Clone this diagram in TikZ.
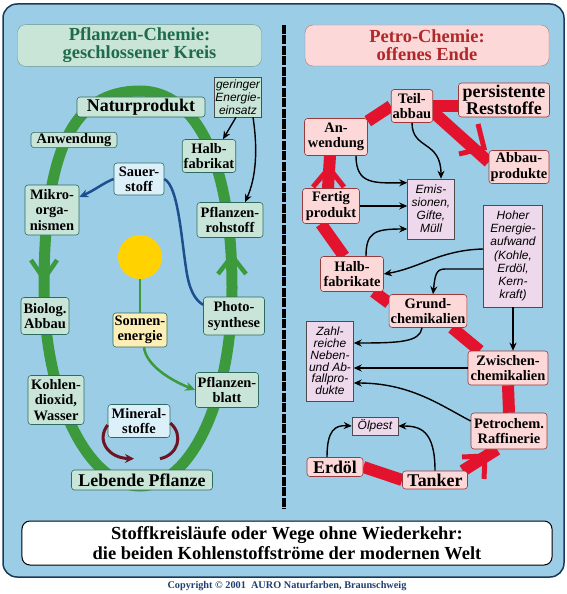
\documentclass[tikz,border=0pt]{standalone}
\usepackage{fontspec}
\setmainfont{Liberation Serif}
\setsansfont{Liberation Sans}
\usetikzlibrary{arrows.meta}
\pgfdeclarelayer{back}
\pgfdeclarelayer{bg}
\pgfsetlayers{back,bg,main}
\definecolor{skyblue}{HTML}{9CCDE6}
\definecolor{framecol}{HTML}{1B3A5A}
\definecolor{leafgreen}{HTML}{3C9A3C}
\definecolor{greenfill}{HTML}{C9E5D8}
\definecolor{greenline}{HTML}{2D6B60}
\definecolor{greentext}{HTML}{1F6B4A}
\definecolor{pinkfill}{HTML}{FCD8D8}
\definecolor{pinkline}{HTML}{9A3A3A}
\definecolor{redtext}{HTML}{B0282A}
\definecolor{petrored}{HTML}{E3132D}
\definecolor{lilac}{HTML}{EED8EC}
\definecolor{skyfill}{HTML}{DCF0FA}
\definecolor{sunfill}{HTML}{FDEEB5}
\definecolor{sunyellow}{HTML}{FFD200}
\definecolor{oxblue}{HTML}{1D4F8E}
\definecolor{rootred}{HTML}{6E1424}
\definecolor{copyblue}{HTML}{1F3F70}
\newcommand{\boxfont}{\fontsize{14.5}{15.3}\selectfont\bfseries}
\newcommand{\bigboxfont}{\fontsize{18}{17}\selectfont\bfseries}
\newcommand{\notefont}{\sffamily\itshape\fontsize{12}{12.9}\selectfont}
\newcommand{\titlefont}{\fontsize{18.5}{18}\selectfont\bfseries}
\newcommand{\captionfont}{\fontsize{18.5}{19.5}\selectfont\bfseries}

\begin{document}
\begin{tikzpicture}[x=1bp,y=-1bp,
	sz/.style 2 args={minimum width=#1bp, minimum height=#2bp},
	box/.style={draw, rounded corners=3bp, line width=0.6bp, align=center, inner xsep=1.5bp, inner ysep=1bp, font=\boxfont},
	gbox/.style={box, draw=greenline, fill=greenfill},
	bbox/.style={box, draw=greenline, fill=skyfill},
	ybox/.style={box, draw=greenline, fill=sunfill},
	pbox/.style={box, draw=pinkline, fill=pinkfill},
	bigtext/.style={font=\bigboxfont},
	note/.style={draw=black!70, line width=0.5bp, align=center, inner sep=1bp, font=\notefont},
	gnote/.style={note, fill=greenfill},
	lnote/.style={note, fill=lilac},
	ring/.style={leafgreen, line width=11bp},
	ringchev/.style={leafgreen, line width=4.5bp},
	band/.style={petrored, line width=12bp},
	bandchev/.style={petrored, line width=5bp},
	karrow/.style={-{Stealth[length=8bp,width=7bp]}, line width=1.4bp},
	gline/.style={leafgreen, line width=2.5bp},
	bline/.style={oxblue, line width=2.5bp},
	mline/.style={rootred, line width=3bp}]
\useasboundingbox (0,0) rectangle (567,594);
\begin{pgfonlayer}{back}
\draw[fill=skyblue, draw=framecol, line width=1.5bp, rounded corners=14bp] (3,4) rectangle (564,577);
\end{pgfonlayer}
\draw[black, line width=4bp, dash pattern=on 9bp off 1.5bp] (284,25) -- (284,509);

\node[draw=greenline!70, fill=greenfill, rounded corners=8bp, sz={244}{41}, align=center, font=\titlefont, text=greentext] (ltitle) at (139.5,45.5) {Pflanzen-Chemie:\\geschlossener Kreis};
\node[draw=pinkline!70, fill=pinkfill, rounded corners=8bp, sz={244}{41}, align=center, font=\titlefont, text=redtext] (rtitle) at (427,45.5) {Petro-Chemie:\\offenes Ende};

\draw[ring] (44,288) .. controls (44,150) and (73,91) .. (140,91) .. controls (195,91) and (232,160) .. (232,288) .. controls (232,397) and (192,486) .. (140,486) .. controls (88,486) and (44,397) .. (44,288) -- cycle;
\draw[ringchev] (31,260) -- (44,279) -- (57,260);
\draw[ringchev] (218,274) -- (232,256) -- (246,274);
\node[circle, fill=sunyellow, minimum size=44bp, inner sep=0pt] (sun) at (140,257) {};

\node[gbox, bigtext, sz={128}{20}] (natur) at (141,107) {Naturprodukt};
\node[gbox, sz={86}{15}] (lanw) at (74,140) {Anwendung};
\node[gbox, sz={46}{33}] (lhalb) at (209,156) {Halb-\\fabrikat};
\node[gnote, sz={45}{40}] (gering) at (238,97) {geringer\\Energie-\\einsatz};
\node[bbox, sz={50}{32}] (sauer) at (139,179) {Sauer-\\stoff};
\node[gbox, sz={54}{50}] (mikro) at (52,210) {Mikro-\\orga-\\nismen};
\node[gbox, sz={66}{35}] (rohstoff) at (230,220) {Pflanzen-\\rohstoff};
\node[ybox, sz={54}{34}] (senergie) at (140,330) {Sonnen-\\energie};
\node[gbox, sz={48}{37}] (biolog) at (45,316) {Biolog.\\Abbau};
\node[gbox, sz={61}{38}] (photo) at (234,316) {Photo-\\synthese};
\node[gbox, sz={56}{49}] (kohlen) at (56,400) {Kohlen-\\dioxid,\\Wasser};
\node[gbox, sz={63}{35}] (blatt) at (227,390) {Pflanzen-\\blatt};
\node[bbox, sz={62}{33}] (mineral) at (139,421) {Mineral-\\stoffe};
\node[gbox, bigtext, sz={141}{20}] (lebend) at (142,480) {Lebende Pflanze};

\node[pbox, sz={41}{33}] (teil) at (412,106) {Teil-\\abbau};
\node[pbox, bigtext, sz={91}{34}] (persist) at (504,100) {persistente\\Reststoffe};
\node[pbox, sz={63}{37}] (ranw) at (336,137) {An-\\wendung};
\node[pbox, sz={60}{33}] (abbau) at (519,167) {Abbau-\\produkte};
\node[lnote, sz={47}{60}] (emis) at (431,209) {Emis-\\sionen,\\Gifte,\\Müll};
\node[pbox, sz={57}{35}] (fertig) at (331,206) {Fertig\\produkt};
\node[pbox, sz={63}{35}] (rhalb) at (352,274) {Halb-\\fabrikate};
\node[lnote, sz={59}{102}, font=\sffamily\itshape\fontsize{12}{13.3}\selectfont] (hoher) at (513,256) {Hoher\\Energie-\\aufwand\\(Kohle,\\Erdöl,\\Kern-\\kraft)};
\node[pbox, sz={70}{33}] (grund) at (428,311) {Grund-\\chemikalien};
\node[lnote, sz={47}{80}, font=\sffamily\itshape\fontsize{12}{11.8}\selectfont] (zahl) at (330,361) {Zahl-\\reiche\\Neben-\\und Ab-\\fallpro-\\dukte};
\node[pbox, sz={80}{34}] (zwischen) at (508,368) {Zwischen-\\chemikalien};
\node[pbox, sz={76}{36}] (raff) at (509,431) {Petrochem.\\Raffinerie};
\node[lnote, sz={46}{18}] (oelpest) at (375,426) {Ölpest};
\node[pbox, bigtext, sz={56}{19}] (erdoel) at (335,467) {Erdöl};
\node[pbox, bigtext, sz={65}{18}] (tanker) at (435,480) {Tanker};

\node[draw=black, fill=white, line width=1bp, rounded corners=8bp, sz={530}{44}, align=center, font=\captionfont] (caption) at (287,543) {Stoffkreisläufe oder Wege ohne Wiederkehr:\\die beiden Kohlenstoffströme der modernen Welt};
\node[font=\fontsize{10.3}{11}\selectfont\bfseries, text=copyblue] (copy) at (287,586) {Copyright © 2001\ \ AURO Naturfarben, Braunschweig};

\draw[gline] (sun) -- (senergie);
\draw[gline, -{Stealth[length=10bp,width=9bp]}] ([xshift=4bp]senergie.south) .. controls (146,365) and (170,380) .. (blatt.west);
\draw[bline] (sauer.east) .. controls (178,186) and (181,235) .. (186,268) .. controls (189,290) and (195,300) .. (photo.160);
\draw[bline, -{Stealth[length=9bp,width=8bp]}] (sauer.west) .. controls (105,182) and (95,190) .. ([yshift=13bp]mikro.east);
\draw[mline, -{Stealth[length=9bp,width=9bp]}] ([yshift=-4bp]mineral.west) .. controls (96,440) and (108,458) .. ([xshift=-8bp,yshift=11bp]lebend.north);
\draw[mline] ([xshift=18bp,yshift=11bp]lebend.north) .. controls (178,455) and (184,435) .. ([yshift=-2bp]mineral.east);
\draw[karrow] ([xshift=-2bp]gering.south) -- ([xshift=14bp]lhalb.north);
\draw[karrow] ([xshift=15bp]gering.south) .. controls (258,150) and (256,178) .. ([xshift=15bp]rohstoff.north);

\begin{pgfonlayer}{bg}
\draw[band] (erdoel.east) -- (tanker.west);
\draw[band] ([xshift=-5bp]tanker.north east) -- ([xshift=-12bp]raff.south);
\draw[band] (raff.north) -- (zwischen.south);
\draw[band] ([xshift=12bp]zwischen.north west) -- ([xshift=-15bp]grund.south east);
\draw[band] ([yshift=8bp]grund.west) -- ([xshift=-10bp]rhalb.south east);
\draw[band] ([xshift=-8bp]rhalb.north) -- ([xshift=-10bp]fertig.south);
\draw[band] ([xshift=-3bp]fertig.north) -- ([xshift=-6bp]ranw.south);
\draw[band] ([yshift=-3bp]ranw.north east) -- (teil.west);
\draw[band] (teil.east) -- (teil.east -| persist.west);
\draw[band] ([yshift=-6bp]teil.east) -- ([yshift=5bp]abbau.west);
\end{pgfonlayer}
\draw[bandchev] (462,457) -- (485,456) -- (484,479);
\draw[bandchev] (313,187) -- (329,168) -- (344,187);
\draw[bandchev] (478,124) -- (484,148) -- (459,154);

\draw[karrow] (teil.south) .. controls (412,150) and (441,140) .. ([xshift=10bp]emis.north);
\draw[karrow] ([xshift=20bp]ranw.south) .. controls (356,185) and (375,183) .. ([yshift=-4bp]emis.north west);
\draw[karrow] (fertig.east) -- (fertig.east -| emis.west);
\draw[karrow] ([xshift=14bp]rhalb.north) .. controls (366,232) and (375,229) .. ([yshift=-20bp]emis.west);
\draw[karrow] ([yshift=7bp]hoher.west) .. controls (440,250) and (420,268) .. (rhalb.east);
\draw[karrow] ([yshift=-13bp]hoher.west) -- (445,269) .. controls (436,269) and (435,275) .. ([xshift=5bp]grund.north);
\draw[karrow] (hoher.south) -- (hoher.south |- zwischen.north);
\draw[karrow] ([xshift=-6bp]grund.south) .. controls (420,342) and (400,343) .. ([yshift=18bp]zahl.east);
\draw[karrow] (zwischen.west) -- (zwischen.west -| zahl.east);
\draw[karrow] ([yshift=10bp]raff.west) .. controls (440,405) and (410,383) .. ([yshift=-22bp]zahl.east);
\draw[karrow] ([xshift=-8bp]erdoel.north) .. controls (327,430) and (335,425) .. (oelpest.west);
\draw[karrow] (tanker.north) .. controls (435,430) and (420,426) .. (oelpest.east);
\end{tikzpicture}
\end{document}
